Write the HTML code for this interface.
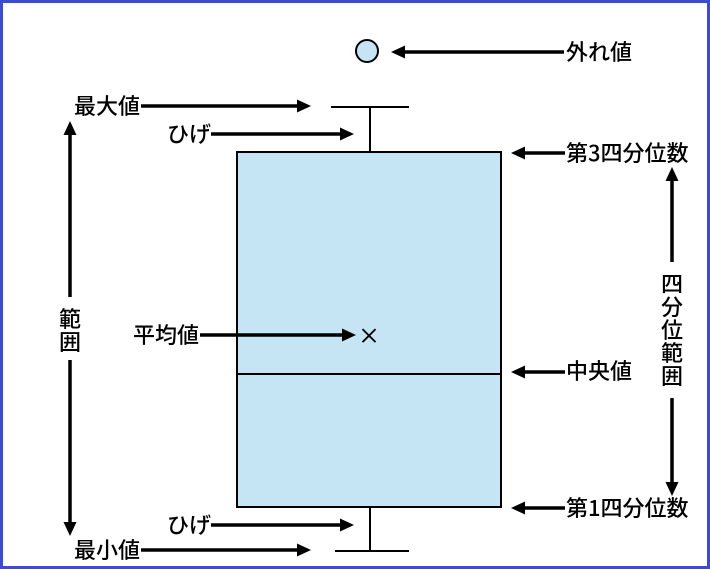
<!DOCTYPE html>
<html><head><meta charset="utf-8"><style>
html,body{margin:0;padding:0;background:#fff}
svg{display:block}
text{font-family:"Noto Sans CJK JP","Liberation Sans",sans-serif;font-size:22px;font-weight:500;fill:#000}
</style></head><body>
<svg width="710" height="569" viewBox="0 0 710 569" xmlns="http://www.w3.org/2000/svg">
<defs>
<marker id="a" markerWidth="14" markerHeight="14" refX="2" refY="7" orient="auto" markerUnits="userSpaceOnUse" viewBox="0 0 14 14">
<path d="M0,0.5 L14,7 L0,13.5 z" fill="#000"/>
</marker>
</defs>
<rect x="1.5" y="1.5" width="707" height="566" fill="#fff" stroke="#3a4bd6" stroke-width="3"/>
<rect x="237" y="152" width="264" height="355" fill="#c5e4f4" stroke="#000" stroke-width="2"/>
<line x1="237" y1="374" x2="501" y2="374" stroke="#000" stroke-width="2"/>
<line x1="370" y1="107" x2="370" y2="152" stroke="#000" stroke-width="2"/>
<line x1="331" y1="107" x2="409" y2="107" stroke="#000" stroke-width="2"/>
<line x1="370" y1="507" x2="370" y2="551" stroke="#000" stroke-width="2"/>
<line x1="335" y1="551" x2="409" y2="551" stroke="#000" stroke-width="2"/>
<circle cx="367" cy="51" r="11" fill="#c5e4f4" stroke="#000" stroke-width="2"/>
<text x="369" y="344" text-anchor="middle" font-size="20" font-weight="900">×</text>
<g stroke="#000" stroke-width="3.5" marker-end="url(#a)">
<line x1="564" y1="52" x2="403" y2="52"/>
<line x1="141" y1="106" x2="299" y2="106"/>
<line x1="211" y1="134" x2="342" y2="134"/>
<line x1="565" y1="153" x2="523" y2="153"/>
<line x1="200" y1="335" x2="344" y2="335"/>
<line x1="565" y1="372" x2="523" y2="372"/>
<line x1="565" y1="508" x2="523" y2="508"/>
<line x1="211" y1="525" x2="342" y2="525"/>
<line x1="141" y1="550" x2="299" y2="550"/>
<line x1="70" y1="297" x2="70" y2="133"/>
<line x1="70" y1="360" x2="70" y2="524"/>
<line x1="672" y1="262" x2="672" y2="179"/>
<line x1="672" y1="398" x2="672" y2="484"/>
</g>
<text x="566" y="60">外れ値</text>
<text x="74" y="114">最大値</text>
<text x="167" y="142">ひげ</text>
<text x="566" y="161">第3四分位数</text>
<text x="133" y="343">平均値</text>
<text x="566" y="379">中央値</text>
<text x="566" y="516">第1四分位数</text>
<text x="167" y="533">ひげ</text>
<text x="74" y="558">最小値</text>
<text x="70" y="327" text-anchor="middle">範</text>
<text x="70" y="350" text-anchor="middle">囲</text>
<text x="672" y="292" text-anchor="middle">四</text>
<text x="672" y="315" text-anchor="middle">分</text>
<text x="672" y="338" text-anchor="middle">位</text>
<text x="672" y="361" text-anchor="middle">範</text>
<text x="672" y="384" text-anchor="middle">囲</text>
</svg>
</body></html>
